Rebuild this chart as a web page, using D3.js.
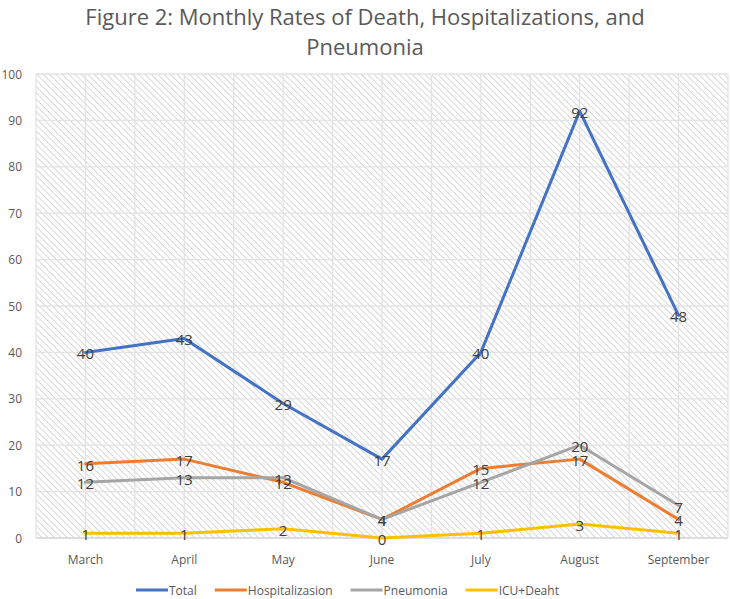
<!DOCTYPE html>
<html><head><meta charset="utf-8">
<script src="https://cdn.jsdelivr.net/npm/d3@7"></script>
<style>body{margin:0;background:#fff}svg{display:block}</style>
</head><body>
<script>
const months = ["March","April","May","June","July","August","September"];
const total = [40,43,29,17,40,92,48];
const hospital = [16,17,12,4,15,17,4];
const pneumonia = [12,13,13,4,12,20,7];
const icuDeath = [1,1,2,0,1,3,1];
const seriesNames = ["Total","Hospitalizasion","Pneumonia","ICU+Deaht"];
const seriesColors = ["#4472C4","#ED7D31","#A5A5A5","#FFC000"];
const yTicks = [0,10,20,30,40,50,60,70,80,90,100];
const titleLines = ["Figure 2: Monthly Rates of Death, Hospitalizations, and","Pneumonia"];

(function(){
const W=730,H=599;
const pL=36,pR=728,pT=74,pB=538;
const svg=d3.select("body").append("svg").attr("width",W).attr("height",H);
const font="'Open Sans', 'Noto Sans', sans-serif";

const defs=svg.append("defs");
const pat=defs.append("pattern").attr("id","hatch").attr("patternUnits","userSpaceOnUse")
  .attr("width",4.5).attr("height",4.5).attr("patternTransform","rotate(-45)");
pat.append("rect").attr("width",4.5).attr("height",4.5).attr("fill","#fff");
pat.append("line").attr("x1",0).attr("y1",0).attr("x2",0).attr("y2",4.5)
  .attr("stroke","#c4c4c4").attr("stroke-width",1.3);

const x=d3.scaleBand().domain(months).range([pL,pR]).padding(0);
const y=d3.scaleLinear().domain([0,100]).range([pB,pT]);

svg.append("rect").attr("x",pL).attr("y",pT).attr("width",pR-pL).attr("height",pB-pT)
  .attr("fill","url(#hatch)");

const g=svg.append("g");
g.selectAll(".hg").data(yTicks).join("line")
  .attr("x1",pL).attr("x2",pR).attr("y1",d=>y(d)).attr("y2",d=>y(d))
  .attr("stroke","#e3e3e3").attr("stroke-width",1.3);
const vx=[];
months.forEach(m=>{vx.push(x(m));vx.push(x(m)+x.bandwidth()/2);});
vx.push(pR);
g.selectAll(".vg").data(vx).join("line")
  .attr("x1",d=>d).attr("x2",d=>d).attr("y1",pT).attr("y2",pB)
  .attr("stroke","#e3e3e3").attr("stroke-width",1.3);
svg.append("line").attr("x1",pL).attr("x2",pR).attr("y1",pB).attr("y2",pB)
  .attr("stroke","#d9d9d9").attr("stroke-width",1.3);

svg.selectAll(".yl").data(yTicks).join("text")
  .attr("x",22).attr("y",d=>y(d)).attr("text-anchor","end").attr("dominant-baseline","central")
  .attr("font-family",font).attr("font-size",12).attr("fill","#595959").text(d=>d);
svg.selectAll(".xl").data(months).join("text")
  .attr("x",d=>x(d)+x.bandwidth()/2).attr("y",559).attr("text-anchor","middle").attr("dominant-baseline","central")
  .attr("font-family",font).attr("font-size",12).attr("fill","#595959").text(d=>d);

svg.selectAll(".tt").data(titleLines).join("text")
  .attr("x",W/2).attr("y",(d,i)=>16+i*30).attr("text-anchor","middle").attr("dominant-baseline","central")
  .attr("font-family",font).attr("font-size",22).attr("fill","#595959").text(d=>d);

const seriesData=[total,hospital,pneumonia,icuDeath];
const cx=i=>x(months[i])+x.bandwidth()/2;
const line=d3.line().x((d,i)=>cx(i)).y(d=>y(d));
seriesData.forEach((s,k)=>{
  svg.append("path").datum(s).attr("d",line).attr("fill","none")
    .attr("stroke",seriesColors[k]).attr("stroke-width",3).attr("stroke-linejoin","round").attr("stroke-linecap","round");
});
seriesData.forEach((s,k)=>{
  svg.append("g").selectAll("text").data(s).join("text")
    .attr("x",(d,i)=>cx(i)).attr("y",d=>y(d)+1).attr("text-anchor","middle").attr("dominant-baseline","central")
    .attr("font-family",font).attr("font-size",15).attr("fill","#404040").text(d=>d);
});

let cur=136;
const leg=svg.append("g");
seriesNames.forEach((n,k)=>{
  leg.append("line").attr("x1",cur).attr("x2",cur+32).attr("y1",590).attr("y2",590)
    .attr("stroke",seriesColors[k]).attr("stroke-width",3);
  const t=leg.append("text").attr("x",cur+33).attr("y",590).attr("dominant-baseline","central")
    .attr("font-family",font).attr("font-size",12).attr("fill","#595959").text(n);
  cur=cur+33+t.node().getComputedTextLength()+18;
});
})();
</script>
</body></html>
